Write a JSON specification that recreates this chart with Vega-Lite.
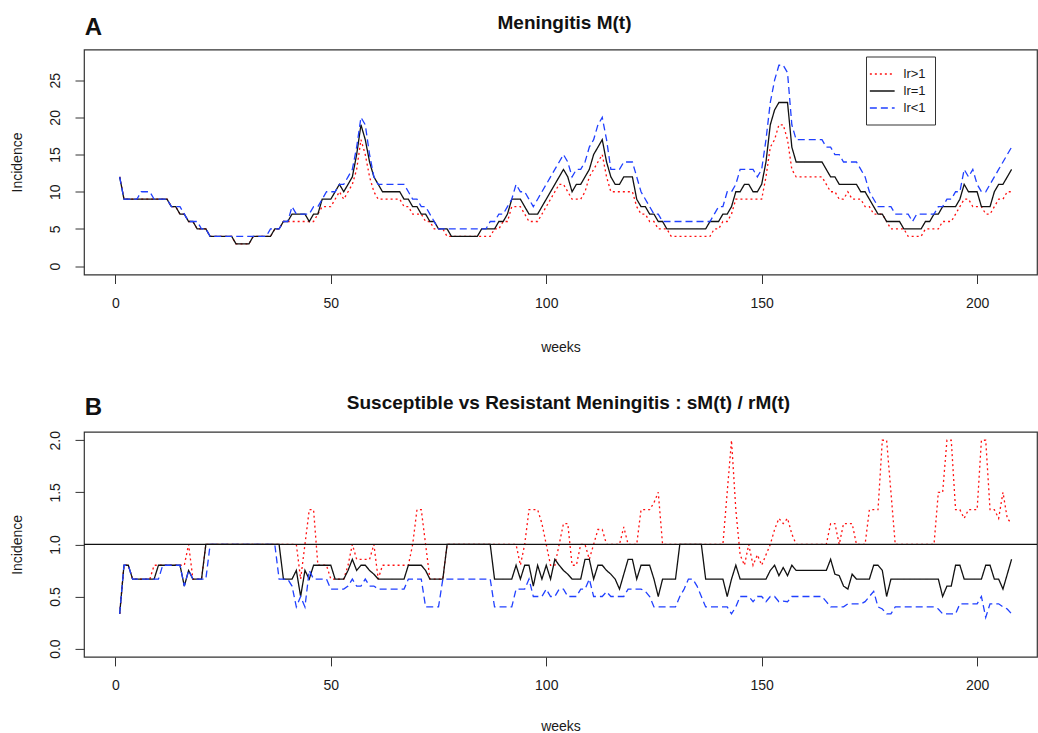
{
"$schema": "https://vega.github.io/schema/vega-lite/v6.json",
"background": "white",
"padding": {"left": 9, "top": 12.5, "right": 0, "bottom": 0},
"spacing": 157.4,
"bounds": "flush",
"config": {
  "font": "Liberation Sans",
  "view": {"stroke": "#333", "strokeWidth": 1.2},
  "axis": {"grid": false, "domain": false, "tickSize": 9, "tickColor": "#333", "tickWidth": 1, "labelFont": "Liberation Sans", "labelFontSize": 14, "labelColor": "#1a1a1a", "titleFont": "Liberation Sans", "titleFontSize": 14, "titleFontWeight": "normal", "titleColor": "#1a1a1a", "labelOverlap": false, "labelFlush": false},
  "axisX": {"labelPadding": 13},
  "axisY": {"labelAngle": 270, "labelAlign": "center", "labelBaseline": "middle", "labelPadding": 20, "titlePadding": 24},
  "title": {"font": "Liberation Sans", "fontSize": 19, "fontWeight": "bold", "anchor": "middle", "color": "#111"},
  "legend": {"orient": "none", "legendX": 782, "legendY": 7, "strokeColor": "#333", "fillColor": "white", "padding": 9, "symbolType": "M-1.6,0H1.6", "symbolSize": 240, "symbolOffset": -1.25, "symbolStrokeWidth": 1.3, "labelFont": "Liberation Sans", "labelFontSize": 13, "labelColor": "#1a1a1a", "rowPadding": 1, "labelOffset": 12.75}
},
"datasets": {
"top": [
{"w":1,"r":12,"k":12,"b":12},{"w":2,"r":9,"k":9,"b":9},{"w":3,"r":9,"k":9,"b":9},{"w":4,"r":9,"k":9,"b":9},{"w":5,"r":9,"k":9,"b":9},
{"w":6,"r":9,"k":9,"b":10},{"w":7,"r":9,"k":9,"b":10},{"w":8,"r":9,"k":9,"b":10},{"w":9,"r":9,"k":9,"b":9},{"w":10,"r":9,"k":9,"b":9},
{"w":11,"r":9,"k":9,"b":9},{"w":12,"r":9,"k":9,"b":9},{"w":13,"r":8,"k":8,"b":8},{"w":14,"r":8,"k":8,"b":8},{"w":15,"r":7,"k":7,"b":8},
{"w":16,"r":7,"k":7,"b":7},{"w":17,"r":6,"k":6,"b":6},{"w":18,"r":6,"k":6,"b":6},{"w":19,"r":5,"k":5,"b":6},{"w":20,"r":5,"k":5,"b":5},
{"w":21,"r":5,"k":5,"b":5},{"w":22,"r":4,"k":4,"b":4},{"w":23,"r":4,"k":4,"b":4},{"w":24,"r":4,"k":4,"b":4},{"w":25,"r":4,"k":4,"b":4},
{"w":26,"r":4,"k":4,"b":4},{"w":27,"r":4,"k":4,"b":4},{"w":28,"r":3,"k":3,"b":4},{"w":29,"r":3,"k":3,"b":4},{"w":30,"r":3,"k":3,"b":4},
{"w":31,"r":3,"k":3,"b":4},{"w":32,"r":4,"k":4,"b":4},{"w":33,"r":4,"k":4,"b":4},{"w":34,"r":4,"k":4,"b":4},{"w":35,"r":4,"k":4,"b":4},
{"w":36,"r":4,"k":4,"b":5},{"w":37,"r":5,"k":5,"b":5},{"w":38,"r":5,"k":5,"b":5},{"w":39,"r":6,"k":6,"b":6},{"w":40,"r":6,"k":6,"b":6},
{"w":41,"r":6,"k":7,"b":8},{"w":42,"r":6,"k":7,"b":7},{"w":43,"r":6,"k":7,"b":7},{"w":44,"r":6,"k":7,"b":7},{"w":45,"r":6,"k":6,"b":7},
{"w":46,"r":6,"k":7,"b":8},{"w":47,"r":7,"k":7,"b":8},{"w":48,"r":8,"k":9,"b":9},{"w":49,"r":8,"k":9,"b":10},{"w":50,"r":8,"k":9,"b":10},
{"w":51,"r":9,"k":10,"b":10},{"w":52,"r":10,"k":11,"b":11},{"w":53,"r":9,"k":10,"b":11},{"w":54,"r":10,"k":11,"b":12},{"w":55,"r":11,"k":12,"b":13},
{"w":56,"r":13,"k":15,"b":16},{"w":57,"r":17,"k":19,"b":20},{"w":58,"r":15,"k":17,"b":19},{"w":59,"r":12,"k":14,"b":15},{"w":60,"r":10,"k":12,"b":12},
{"w":61,"r":9,"k":11,"b":11},{"w":62,"r":9,"k":10,"b":11},{"w":63,"r":9,"k":10,"b":11},{"w":64,"r":9,"k":10,"b":11},{"w":65,"r":9,"k":10,"b":11},
{"w":66,"r":9,"k":10,"b":11},{"w":67,"r":8,"k":9,"b":11},{"w":68,"r":8,"k":9,"b":10},{"w":69,"r":7,"k":8,"b":9},{"w":70,"r":7,"k":8,"b":9},
{"w":71,"r":7,"k":7,"b":8},{"w":72,"r":6,"k":7,"b":8},{"w":73,"r":6,"k":6,"b":7},{"w":74,"r":5,"k":6,"b":6},{"w":75,"r":5,"k":5,"b":5},
{"w":76,"r":5,"k":5,"b":5},{"w":77,"r":4,"k":5,"b":5},{"w":78,"r":4,"k":4,"b":5},{"w":79,"r":4,"k":4,"b":5},{"w":80,"r":4,"k":4,"b":5},
{"w":81,"r":4,"k":4,"b":5},{"w":82,"r":4,"k":4,"b":5},{"w":83,"r":4,"k":4,"b":5},{"w":84,"r":4,"k":4,"b":5},{"w":85,"r":4,"k":5,"b":5},
{"w":86,"r":4,"k":5,"b":5},{"w":87,"r":4,"k":5,"b":6},{"w":88,"r":5,"k":5,"b":6},{"w":89,"r":5,"k":6,"b":7},{"w":90,"r":6,"k":6,"b":7},
{"w":91,"r":6,"k":7,"b":8},{"w":92,"r":8,"k":9,"b":9},{"w":93,"r":8,"k":9,"b":11},{"w":94,"r":8,"k":9,"b":10},{"w":95,"r":7,"k":8,"b":10},
{"w":96,"r":6,"k":7,"b":9},{"w":97,"r":6,"k":7,"b":8},{"w":98,"r":6,"k":7,"b":9},{"w":99,"r":7,"k":8,"b":10},{"w":100,"r":8,"k":9,"b":11},
{"w":101,"r":9,"k":10,"b":12},{"w":102,"r":10,"k":11,"b":13},{"w":103,"r":11,"k":12,"b":14},{"w":104,"r":11,"k":13,"b":15},{"w":105,"r":10,"k":12,"b":14},
{"w":106,"r":9,"k":10,"b":12},{"w":107,"r":9,"k":11,"b":13},{"w":108,"r":9,"k":11,"b":13},{"w":109,"r":10,"k":12,"b":14},{"w":110,"r":12,"k":13,"b":16},
{"w":111,"r":13,"k":15,"b":17},{"w":112,"r":14,"k":16,"b":19},{"w":113,"r":15,"k":17,"b":20},{"w":114,"r":12,"k":14,"b":17},{"w":115,"r":10,"k":12,"b":13},
{"w":116,"r":10,"k":11,"b":13},{"w":117,"r":10,"k":11,"b":13},{"w":118,"r":10,"k":12,"b":14},{"w":119,"r":10,"k":12,"b":14},{"w":120,"r":10,"k":12,"b":14},
{"w":121,"r":8,"k":9,"b":12},{"w":122,"r":7,"k":8,"b":10},{"w":123,"r":7,"k":8,"b":9},{"w":124,"r":6,"k":7,"b":8},{"w":125,"r":6,"k":7,"b":7},
{"w":126,"r":5,"k":6,"b":7},{"w":127,"r":5,"k":6,"b":6},{"w":128,"r":5,"k":5,"b":6},{"w":129,"r":4,"k":5,"b":6},{"w":130,"r":4,"k":5,"b":6},
{"w":131,"r":4,"k":5,"b":6},{"w":132,"r":4,"k":5,"b":6},{"w":133,"r":4,"k":5,"b":6},{"w":134,"r":4,"k":5,"b":6},{"w":135,"r":4,"k":5,"b":6},
{"w":136,"r":4,"k":5,"b":6},{"w":137,"r":4,"k":5,"b":6},{"w":138,"r":4,"k":6,"b":6},{"w":139,"r":5,"k":6,"b":7},{"w":140,"r":5,"k":6,"b":8},
{"w":141,"r":6,"k":7,"b":8},{"w":142,"r":6,"k":7,"b":10},{"w":143,"r":7,"k":8,"b":10},{"w":144,"r":9,"k":10,"b":11},{"w":145,"r":9,"k":10,"b":13},
{"w":146,"r":9,"k":11,"b":13},{"w":147,"r":9,"k":11,"b":13},{"w":148,"r":9,"k":10,"b":13},{"w":149,"r":9,"k":10,"b":12},{"w":150,"r":9,"k":11,"b":13},
{"w":151,"r":12,"k":14,"b":17},{"w":152,"r":16,"k":19,"b":22},{"w":153,"r":17,"k":21,"b":25},{"w":154,"r":19,"k":22,"b":27},{"w":155,"r":19,"k":22,"b":27},
{"w":156,"r":17,"k":22,"b":26},{"w":157,"r":13,"k":16,"b":19},{"w":158,"r":12,"k":14,"b":17},{"w":159,"r":12,"k":14,"b":17},{"w":160,"r":12,"k":14,"b":17},
{"w":161,"r":12,"k":14,"b":17},{"w":162,"r":12,"k":14,"b":17},{"w":163,"r":12,"k":14,"b":17},{"w":164,"r":12,"k":14,"b":17},{"w":165,"r":11,"k":13,"b":16},
{"w":166,"r":10,"k":12,"b":16},{"w":167,"r":10,"k":12,"b":15},{"w":168,"r":9,"k":11,"b":15},{"w":169,"r":9,"k":11,"b":14},{"w":170,"r":10,"k":11,"b":14},
{"w":171,"r":9,"k":11,"b":14},{"w":172,"r":9,"k":11,"b":14},{"w":173,"r":9,"k":10,"b":13},{"w":174,"r":8,"k":10,"b":12},{"w":175,"r":8,"k":9,"b":10},
{"w":176,"r":7,"k":8,"b":9},{"w":177,"r":7,"k":7,"b":8},{"w":178,"r":7,"k":7,"b":8},{"w":179,"r":6,"k":6,"b":8},{"w":180,"r":5,"k":6,"b":8},
{"w":181,"r":5,"k":6,"b":7},{"w":182,"r":5,"k":6,"b":7},{"w":183,"r":5,"k":5,"b":7},{"w":184,"r":4,"k":5,"b":7},{"w":185,"r":4,"k":5,"b":6},
{"w":186,"r":4,"k":5,"b":7},{"w":187,"r":4,"k":5,"b":7},{"w":188,"r":5,"k":6,"b":7},{"w":189,"r":5,"k":6,"b":7},{"w":190,"r":5,"k":7,"b":7},
{"w":191,"r":5,"k":7,"b":8},{"w":192,"r":6,"k":8,"b":8},{"w":193,"r":6,"k":8,"b":9},{"w":194,"r":6,"k":8,"b":9},{"w":195,"r":7,"k":8,"b":10},
{"w":196,"r":8,"k":9,"b":10},{"w":197,"r":9,"k":11,"b":13},{"w":198,"r":9,"k":10,"b":12},{"w":199,"r":8,"k":10,"b":13},{"w":200,"r":8,"k":10,"b":11},
{"w":201,"r":8,"k":8,"b":10},{"w":202,"r":7,"k":8,"b":10},{"w":203,"r":7,"k":8,"b":11},{"w":204,"r":8,"k":10,"b":12},{"w":205,"r":9,"k":11,"b":13},
{"w":206,"r":9,"k":11,"b":14},{"w":207,"r":10,"k":12,"b":15},{"w":208,"r":10,"k":13,"b":16}
],
"bot": [
{"w":1,"r":0.333,"k":0.333,"b":0.333},{"w":2,"r":0.8,"k":0.8,"b":0.8},{"w":3,"r":0.8,"k":0.8,"b":0.8},{"w":4,"r":0.667,"k":0.667,"b":0.667},{"w":5,"r":0.667,"k":0.667,"b":0.667},
{"w":6,"r":0.667,"k":0.667,"b":0.667},{"w":7,"r":0.667,"k":0.667,"b":0.667},{"w":8,"r":0.667,"k":0.667,"b":0.667},{"w":9,"r":0.8,"k":0.667,"b":0.667},{"w":10,"r":0.8,"k":0.8,"b":0.667},
{"w":11,"r":0.8,"k":0.8,"b":0.8},{"w":12,"r":0.8,"k":0.8,"b":0.8},{"w":13,"r":0.8,"k":0.8,"b":0.8},{"w":14,"r":0.8,"k":0.8,"b":0.8},{"w":15,"r":0.8,"k":0.8,"b":0.8},
{"w":16,"r":0.8,"k":0.6,"b":0.6},{"w":17,"r":1,"k":0.75,"b":0.75},{"w":18,"r":0.667,"k":0.667,"b":0.667},{"w":19,"r":0.667,"k":0.667,"b":0.667},{"w":20,"r":0.667,"k":0.667,"b":0.667},
{"w":21,"r":1,"k":1,"b":0.667},{"w":22,"r":1,"k":1,"b":1},{"w":23,"r":1,"k":1,"b":1},{"w":24,"r":1,"k":1,"b":1},{"w":25,"r":1,"k":1,"b":1},
{"w":26,"r":1,"k":1,"b":1},{"w":27,"r":1,"k":1,"b":1},{"w":28,"r":1,"k":1,"b":1},{"w":29,"r":1,"k":1,"b":1},{"w":30,"r":1,"k":1,"b":1},
{"w":31,"r":1,"k":1,"b":1},{"w":32,"r":1,"k":1,"b":1},{"w":33,"r":1,"k":1,"b":1},{"w":34,"r":1,"k":1,"b":1},{"w":35,"r":1,"k":1,"b":1},
{"w":36,"r":1,"k":1,"b":1},{"w":37,"r":1,"k":1,"b":1},{"w":38,"r":1,"k":1,"b":0.667},{"w":39,"r":1,"k":0.667,"b":0.667},{"w":40,"r":1,"k":0.667,"b":0.667},
{"w":41,"r":1,"k":0.667,"b":0.6},{"w":42,"r":1,"k":0.75,"b":0.4},{"w":43,"r":0.667,"k":0.5,"b":0.5},{"w":44,"r":1,"k":0.75,"b":0.4},{"w":45,"r":1.333,"k":0.667,"b":0.75},
{"w":46,"r":1.333,"k":0.8,"b":0.667},{"w":47,"r":0.8,"k":0.8,"b":0.667},{"w":48,"r":0.8,"k":0.8,"b":0.667},{"w":49,"r":0.8,"k":0.8,"b":0.667},{"w":50,"r":0.667,"k":0.8,"b":0.571},
{"w":51,"r":0.667,"k":0.667,"b":0.571},{"w":52,"r":0.667,"k":0.667,"b":0.571},{"w":53,"r":0.667,"k":0.667,"b":0.571},{"w":54,"r":0.8,"k":0.75,"b":0.6},{"w":55,"r":1,"k":0.857,"b":0.667},
{"w":56,"r":0.857,"k":0.75,"b":0.6},{"w":57,"r":0.857,"k":0.8,"b":0.6},{"w":58,"r":0.857,"k":0.8,"b":0.667},{"w":59,"r":0.857,"k":0.75,"b":0.6},{"w":60,"r":1,"k":0.714,"b":0.6},
{"w":61,"r":0.667,"k":0.667,"b":0.571},{"w":62,"r":0.8,"k":0.667,"b":0.571},{"w":63,"r":0.8,"k":0.667,"b":0.571},{"w":64,"r":0.8,"k":0.667,"b":0.571},{"w":65,"r":0.8,"k":0.667,"b":0.571},
{"w":66,"r":0.8,"k":0.667,"b":0.571},{"w":67,"r":0.8,"k":0.667,"b":0.571},{"w":68,"r":0.8,"k":0.8,"b":0.667},{"w":69,"r":1,"k":0.8,"b":0.667},{"w":70,"r":1.333,"k":0.8,"b":0.667},
{"w":71,"r":1.333,"k":0.8,"b":0.667},{"w":72,"r":1,"k":0.75,"b":0.4},{"w":73,"r":0.667,"k":0.667,"b":0.4},{"w":74,"r":0.667,"k":0.667,"b":0.4},{"w":75,"r":0.667,"k":0.667,"b":0.4},
{"w":76,"r":0.667,"k":0.667,"b":0.667},{"w":77,"r":1,"k":1,"b":0.667},{"w":78,"r":1,"k":1,"b":0.667},{"w":79,"r":1,"k":1,"b":0.667},{"w":80,"r":1,"k":1,"b":0.667},
{"w":81,"r":1,"k":1,"b":0.667},{"w":82,"r":1,"k":1,"b":0.667},{"w":83,"r":1,"k":1,"b":0.667},{"w":84,"r":1,"k":1,"b":0.667},{"w":85,"r":1,"k":1,"b":0.667},
{"w":86,"r":1,"k":1,"b":0.667},{"w":87,"r":1,"k":1,"b":0.667},{"w":88,"r":1,"k":0.667,"b":0.4},{"w":89,"r":1,"k":0.667,"b":0.4},{"w":90,"r":1,"k":0.667,"b":0.4},
{"w":91,"r":1,"k":0.667,"b":0.4},{"w":92,"r":1,"k":0.667,"b":0.4},{"w":93,"r":1,"k":0.8,"b":0.571},{"w":94,"r":0.8,"k":0.667,"b":0.571},{"w":95,"r":1,"k":0.8,"b":0.571},
{"w":96,"r":1.333,"k":0.8,"b":0.667},{"w":97,"r":1.333,"k":0.6,"b":0.5},{"w":98,"r":1.333,"k":0.8,"b":0.5},{"w":99,"r":1.2,"k":0.667,"b":0.5},{"w":100,"r":1,"k":0.8,"b":0.571},
{"w":101,"r":0.8,"k":0.667,"b":0.5},{"w":102,"r":0.8,"k":0.857,"b":0.5},{"w":103,"r":1,"k":0.8,"b":0.571},{"w":104,"r":1.2,"k":0.75,"b":0.571},{"w":105,"r":1.2,"k":0.714,"b":0.5},
{"w":106,"r":0.8,"k":0.667,"b":0.5},{"w":107,"r":0.8,"k":0.667,"b":0.5},{"w":108,"r":1,"k":0.667,"b":0.571},{"w":109,"r":1,"k":0.857,"b":0.571},{"w":110,"r":0.857,"k":0.857,"b":0.667},
{"w":111,"r":1,"k":0.667,"b":0.5},{"w":112,"r":1.143,"k":0.8,"b":0.5},{"w":113,"r":1.143,"k":0.8,"b":0.5},{"w":114,"r":1,"k":0.75,"b":0.545},{"w":115,"r":1,"k":0.714,"b":0.5},
{"w":116,"r":1,"k":0.667,"b":0.5},{"w":117,"r":1,"k":0.571,"b":0.5},{"w":118,"r":1.167,"k":0.714,"b":0.5},{"w":119,"r":1,"k":0.857,"b":0.571},{"w":120,"r":1,"k":0.857,"b":0.571},
{"w":121,"r":1,"k":0.667,"b":0.571},{"w":122,"r":1.333,"k":0.8,"b":0.571},{"w":123,"r":1.333,"k":0.8,"b":0.55},{"w":124,"r":1.333,"k":0.8,"b":0.5},{"w":125,"r":1.4,"k":0.667,"b":0.4},
{"w":126,"r":1.5,"k":0.5,"b":0.4},{"w":127,"r":1,"k":0.667,"b":0.4},{"w":128,"r":1,"k":0.667,"b":0.4},{"w":129,"r":1,"k":0.667,"b":0.4},{"w":130,"r":1,"k":0.667,"b":0.4},
{"w":131,"r":1,"k":1,"b":0.5},{"w":132,"r":1,"k":1,"b":0.571},{"w":133,"r":1,"k":1,"b":0.667},{"w":134,"r":1,"k":1,"b":0.667},{"w":135,"r":1,"k":1,"b":0.6},
{"w":136,"r":1,"k":1,"b":0.5},{"w":137,"r":1,"k":0.667,"b":0.4},{"w":138,"r":1,"k":0.667,"b":0.4},{"w":139,"r":1,"k":0.667,"b":0.4},{"w":140,"r":1,"k":0.667,"b":0.4},
{"w":141,"r":1,"k":0.667,"b":0.4},{"w":142,"r":1.5,"k":0.5,"b":0.4},{"w":143,"r":2,"k":0.667,"b":0.333},{"w":144,"r":1.333,"k":0.8,"b":0.4},{"w":145,"r":0.9,"k":0.667,"b":0.5},
{"w":146,"r":0.8,"k":0.667,"b":0.5},{"w":147,"r":1,"k":0.667,"b":0.5},{"w":148,"r":0.8,"k":0.667,"b":0.45},{"w":149,"r":0.9,"k":0.667,"b":0.5},{"w":150,"r":0.8,"k":0.667,"b":0.5},
{"w":151,"r":0.9,"k":0.667,"b":0.45},{"w":152,"r":1,"k":0.75,"b":0.5},{"w":153,"r":1.143,"k":0.8,"b":0.5},{"w":154,"r":1.25,"k":0.7,"b":0.45},{"w":155,"r":1.2,"k":0.778,"b":0.455},
{"w":156,"r":1.25,"k":0.7,"b":0.45},{"w":157,"r":1.1,"k":0.8,"b":0.5},{"w":158,"r":1,"k":0.75,"b":0.5},{"w":159,"r":1,"k":0.75,"b":0.5},{"w":160,"r":1,"k":0.75,"b":0.5},
{"w":161,"r":1,"k":0.75,"b":0.5},{"w":162,"r":1,"k":0.75,"b":0.5},{"w":163,"r":1,"k":0.75,"b":0.5},{"w":164,"r":1,"k":0.75,"b":0.5},{"w":165,"r":1,"k":0.75,"b":0.45},
{"w":166,"r":1.2,"k":0.857,"b":0.4},{"w":167,"r":1.2,"k":0.714,"b":0.4},{"w":168,"r":1,"k":0.7,"b":0.4},{"w":169,"r":1.2,"k":0.6,"b":0.4},{"w":170,"r":1.2,"k":0.571,"b":0.429},
{"w":171,"r":1.2,"k":0.714,"b":0.429},{"w":172,"r":1,"k":0.667,"b":0.429},{"w":173,"r":1,"k":0.667,"b":0.429},{"w":174,"r":1,"k":0.667,"b":0.45},{"w":175,"r":1.333,"k":0.667,"b":0.5},
{"w":176,"r":1.333,"k":0.8,"b":0.55},{"w":177,"r":1.333,"k":0.8,"b":0.4},{"w":178,"r":2,"k":0.75,"b":0.38},{"w":179,"r":2,"k":0.5,"b":0.333},{"w":180,"r":1.5,"k":0.667,"b":0.333},
{"w":181,"r":1,"k":0.667,"b":0.4},{"w":182,"r":1,"k":0.667,"b":0.4},{"w":183,"r":1,"k":0.667,"b":0.4},{"w":184,"r":1,"k":0.667,"b":0.4},{"w":185,"r":1,"k":0.667,"b":0.4},
{"w":186,"r":1,"k":0.667,"b":0.4},{"w":187,"r":1,"k":0.667,"b":0.4},{"w":188,"r":1,"k":0.667,"b":0.4},{"w":189,"r":1,"k":0.667,"b":0.4},{"w":190,"r":1,"k":0.667,"b":0.4},
{"w":191,"r":1.5,"k":0.667,"b":0.38},{"w":192,"r":1.5,"k":0.5,"b":0.333},{"w":193,"r":2,"k":0.6,"b":0.333},{"w":194,"r":2,"k":0.6,"b":0.333},{"w":195,"r":1.333,"k":0.8,"b":0.333},
{"w":196,"r":1.333,"k":0.8,"b":0.429},{"w":197,"r":1.25,"k":0.667,"b":0.429},{"w":198,"r":1.333,"k":0.667,"b":0.429},{"w":199,"r":1.333,"k":0.667,"b":0.429},{"w":200,"r":1.333,"k":0.667,"b":0.429},
{"w":201,"r":2,"k":0.667,"b":0.5},{"w":202,"r":2,"k":0.8,"b":0.3},{"w":203,"r":1.333,"k":0.8,"b":0.43},{"w":204,"r":1.333,"k":0.667,"b":0.43},{"w":205,"r":1.25,"k":0.667,"b":0.43},
{"w":206,"r":1.5,"k":0.571,"b":0.4},{"w":207,"r":1.25,"k":0.714,"b":0.38},{"w":208,"r":1.2,"k":0.857,"b":0.333}
]
},
"vconcat": [
{
  "width": 953, "height": 225,
  "title": {"text": "Meningitis M(t)", "frame": "group", "offset": -16.8, "dx": 4},
  "layer": [
    {
      "data": {"name": "top"},
      "transform": [{"fold": ["r", "k", "b"], "as": ["s", "v"]}],
      "mark": {"type": "line", "strokeWidth": 1.3},
      "encoding": {
        "x": {"field": "w", "type": "quantitative", "scale": {"domain": [-7.28, 213.9], "nice": false, "zero": false}, "axis": {"values": [0, 50, 100, 150, 200], "title": "weeks", "titlePadding": 30}},
        "y": {"field": "v", "type": "quantitative", "scale": {"domain": [-1.12, 29.12], "nice": false, "zero": false}, "axis": {"values": [0, 5, 10, 15, 20, 25], "title": "Incidence"}},
        "color": {"field": "s", "type": "nominal", "scale": {"domain": ["r", "k", "b"], "range": ["#ff1010", "#111111", "#2040ff"]}, "legend": {"title": null, "labelExpr": "datum.label == 'r' ? 'lr>1' : datum.label == 'k' ? 'lr=1' : 'lr<1'"}},
        "strokeDash": {"field": "s", "type": "nominal", "scale": {"domain": ["r", "k", "b"], "range": [[2, 3], [1, 0], [7, 4]]}, "legend": {"title": null, "labelExpr": "datum.label == 'r' ? 'lr>1' : datum.label == 'k' ? 'lr=1' : 'lr<1'"}}
      }
    },
    {
      "data": {"values": [{"t": "A"}]},
      "mark": {"type": "text", "fontSize": 24, "fontWeight": "bold", "font": "Liberation Sans", "color": "#111"},
      "encoding": {"x": {"datum": -5.1}, "y": {"datum": 32}, "text": {"field": "t"}}
    }
  ]
},
{
  "width": 953, "height": 225,
  "title": {"text": "Susceptible vs Resistant Meningitis : sM(t) / rM(t)", "frame": "group", "offset": -16.8, "dx": 8},
  "layer": [
    {
      "data": {"name": "bot"},
      "transform": [{"fold": ["r", "k", "b"], "as": ["s", "v"]}],
      "mark": {"type": "line", "strokeWidth": 1.3},
      "encoding": {
        "x": {"field": "w", "type": "quantitative", "scale": {"domain": [-7.28, 213.9], "nice": false, "zero": false}, "axis": {"values": [0, 50, 100, 150, 200], "title": "weeks", "titlePadding": 27}},
        "y": {"field": "v", "type": "quantitative", "scale": {"domain": [-0.08, 2.08], "nice": false, "zero": false}, "axis": {"values": [0, 0.5, 1, 1.5, 2], "format": ".1f", "title": "Incidence"}},
        "color": {"field": "s", "type": "nominal", "scale": {"domain": ["r", "k", "b"], "range": ["#ff1010", "#111111", "#2040ff"]}, "legend": null},
        "strokeDash": {"field": "s", "type": "nominal", "scale": {"domain": ["r", "k", "b"], "range": [[2, 3], [1, 0], [7, 4]]}, "legend": null}
      }
    },
    {
      "data": {"values": [{"h": 1}]},
      "mark": {"type": "rule", "color": "#111", "strokeWidth": 1.2},
      "encoding": {"y": {"field": "h", "type": "quantitative"}}
    },
    {
      "data": {"values": [{"t": "B"}]},
      "mark": {"type": "text", "fontSize": 24, "fontWeight": "bold", "font": "Liberation Sans", "color": "#111"},
      "encoding": {"x": {"datum": -5.1}, "y": {"datum": 2.31}, "text": {"field": "t"}}
    }
  ]
}
]
}
